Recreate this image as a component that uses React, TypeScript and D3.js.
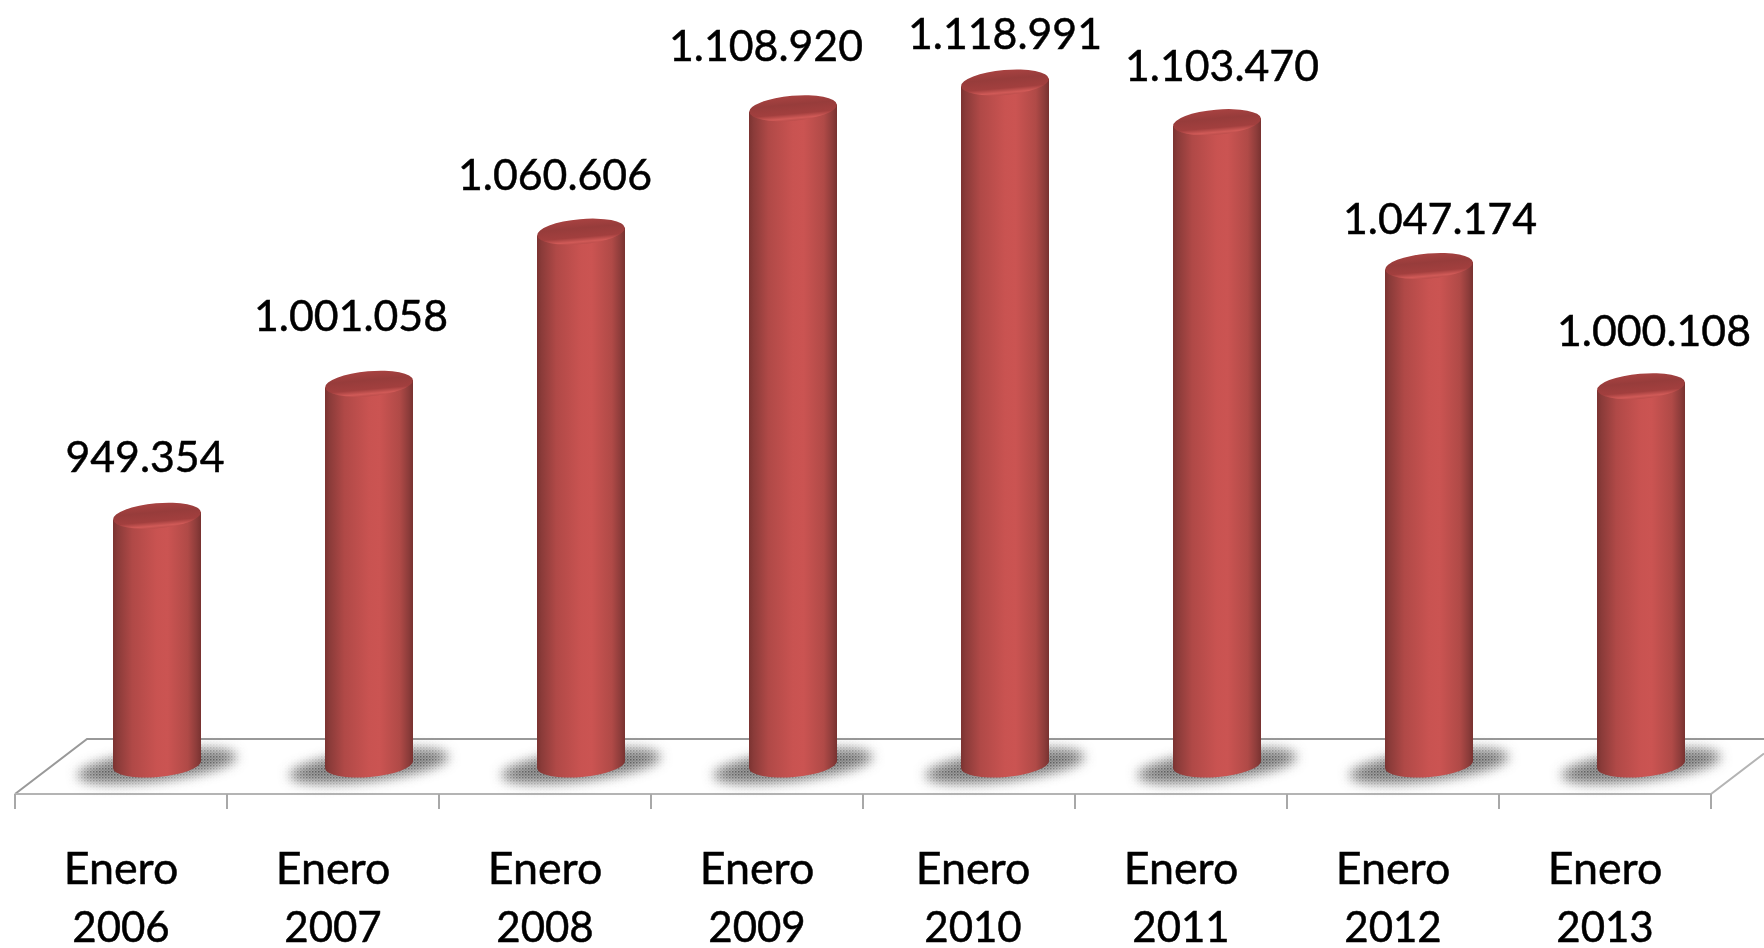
import React from "react";
import * as d3 from "d3";

const W = 1764, H = 948;
const months = ["Enero", "Enero", "Enero", "Enero", "Enero", "Enero", "Enero", "Enero"];
const years = ["2006", "2007", "2008", "2009", "2010", "2011", "2012", "2013"];
const values = [949354, 1001058, 1060606, 1108920, 1118991, 1103470, 1047174, 1000108];
const valueLabels = ["949.354", "1.001.058", "1.060.606", "1.108.920", "1.118.991", "1.103.470", "1.047.174", "1.000.108"];
// manual offsets of the data labels relative to the cylinder centre, as placed in the original
const labelShiftX = [-12, -18, -26, -27, 0, 5, 11, 13];
const labelGap = [44, 53, 42, 47, 34, 41, 32, 40];
const catShiftX = [0, 0, 0, 0, 4, 0, 0, 0];

const floor = { x0: 15, x1: 1711, front: 794, back: 739, depthX: 72 };
const x = d3.scaleBand<string>().domain(years).range([floor.x0, floor.x1]);
const baseValue = 852000;
const y = d3.scaleLinear().domain([baseValue, 1118991]).range([764.5, 81.5 + 1]);
const RX = 44, RY = 12.5, TILT = -5;
const rad = (TILT * Math.PI) / 180;
const dy = RX * Math.sin(rad);
const cx = (yr: string) => (x(yr) as number) + x.bandwidth() / 2 + 36;
const FONT = "Lato, Carlito, sans-serif";

function bodyPath(c: number, top: number, bottom: number) {
  const p = d3.path();
  p.moveTo(c - RX, top - dy);
  p.lineTo(c - RX, bottom - dy);
  return `${p.toString()} A ${RX} ${RY} ${TILT} 0 0 ${c + RX} ${bottom + dy} L ${c + RX} ${top + dy} Z`;
}

export default function App() {
  return (
    <svg width={W} height={H} viewBox={`0 0 ${W} ${H}`} style={{ position: "absolute", left: 0, top: 0, display: "block", background: "#fff" }}>
      <defs>
        <linearGradient id="body" x1="0" x2="1" y1="0" y2="0">
          <stop offset="0" stopColor="#7b3331" />
          <stop offset="0.05" stopColor="#8a3b39" />
          <stop offset="0.22" stopColor="#b04947" />
          <stop offset="0.5" stopColor="#c95351" />
          <stop offset="0.62" stopColor="#cb5452" />
          <stop offset="0.85" stopColor="#b04a47" />
          <stop offset="0.95" stopColor="#8c3c3a" />
          <stop offset="1" stopColor="#783230" />
        </linearGradient>
        <linearGradient id="cap" x1="0" x2="0" y1="0" y2="1">
          <stop offset="0" stopColor="#a84241" />
          <stop offset="0.35" stopColor="#973c3b" />
          <stop offset="0.72" stopColor="#a23f3e" />
          <stop offset="0.9" stopColor="#d05a57" />
          <stop offset="1" stopColor="#bc4d4b" />
        </linearGradient>
        <filter id="soft" x="-30%" y="-80%" width="160%" height="260%">
          <feGaussianBlur stdDeviation="6" />
        </filter>
        <filter id="txt" x="-5%" y="-20%" width="110%" height="140%">
          <feGaussianBlur stdDeviation="0.45" />
        </filter>
        <pattern id="dots" width="3" height="3" patternUnits="userSpaceOnUse">
          <rect width="3" height="3" fill="#fff" fillOpacity="0.62" />
          <rect width="1.5" height="1.5" fill="#fff" fillOpacity="0.95" />
          <rect x="1.5" y="1.5" width="1.5" height="1.5" fill="#fff" fillOpacity="0.3" />
        </pattern>
        <mask id="dotMask" maskUnits="userSpaceOnUse" x="0" y="0" width={W} height={H}>
          <rect width={W} height={H} fill="url(#dots)" />
        </mask>
      </defs>

      {/* floor */}
      <g fill="none" strokeWidth={2}>
        <path d={d3.line()([[floor.x0, floor.front], [floor.x0 + floor.depthX, floor.back], [W, floor.back]]) as string} stroke="#999" />
        <path d={d3.line()([[floor.x0, floor.front], [floor.x1, floor.front], [W, floor.front - ((W - floor.x1) * (floor.front - floor.back)) / floor.depthX]]) as string} stroke="#b4b4b4" />
        {[...years.map((d) => x(d) as number), floor.x1].map((t, i) => (
          <line key={i} x1={t} x2={t} y1={floor.front} y2={floor.front + 15} stroke="#a8a8a8" />
        ))}
      </g>

      {/* shadows */}
      <g mask="url(#dotMask)">
        {years.map((yr) => (
          <g key={yr} transform={`translate(${cx(yr)},766) rotate(-7)`}>
            <ellipse rx={80} ry={15} fill="#555" filter="url(#soft)" />
          </g>
        ))}
      </g>

      {/* cylinders */}
      {years.map((yr, i) => {
        const c = cx(yr), top = y(values[i]), bottom = y(baseValue);
        return (
          <g key={yr}>
            <path d={bodyPath(c, top, bottom)} fill="url(#body)" />
            <ellipse cx={c} cy={top} rx={RX} ry={RY} transform={`rotate(${TILT} ${c} ${top})`} fill="url(#cap)" />
          </g>
        );
      })}

      {/* data labels */}
      <g fontFamily={FONT} fontSize={42.8} fill="#000" stroke="#000" strokeWidth={0.5} textAnchor="middle" filter="url(#txt)">
        {years.map((yr, i) => (
          <text key={yr} x={cx(yr) + labelShiftX[i]} y={y(values[i]) - labelGap[i]}>{valueLabels[i]}</text>
        ))}
      </g>

      {/* categories */}
      <g fontFamily={FONT} fill="#000" stroke="#000" strokeWidth={0.5} textAnchor="middle" filter="url(#txt)">
        {years.map((yr, i) => {
          const px = (x(yr) as number) + x.bandwidth() / 2 + catShiftX[i];
          return (
            <text key={yr} x={px}>
              <tspan x={px} y={884} fontSize={44.8}>{months[i]}</tspan>
              <tspan x={px} y={942} fontSize={42}>{yr}</tspan>
            </text>
          );
        })}
      </g>
    </svg>
  );
}
